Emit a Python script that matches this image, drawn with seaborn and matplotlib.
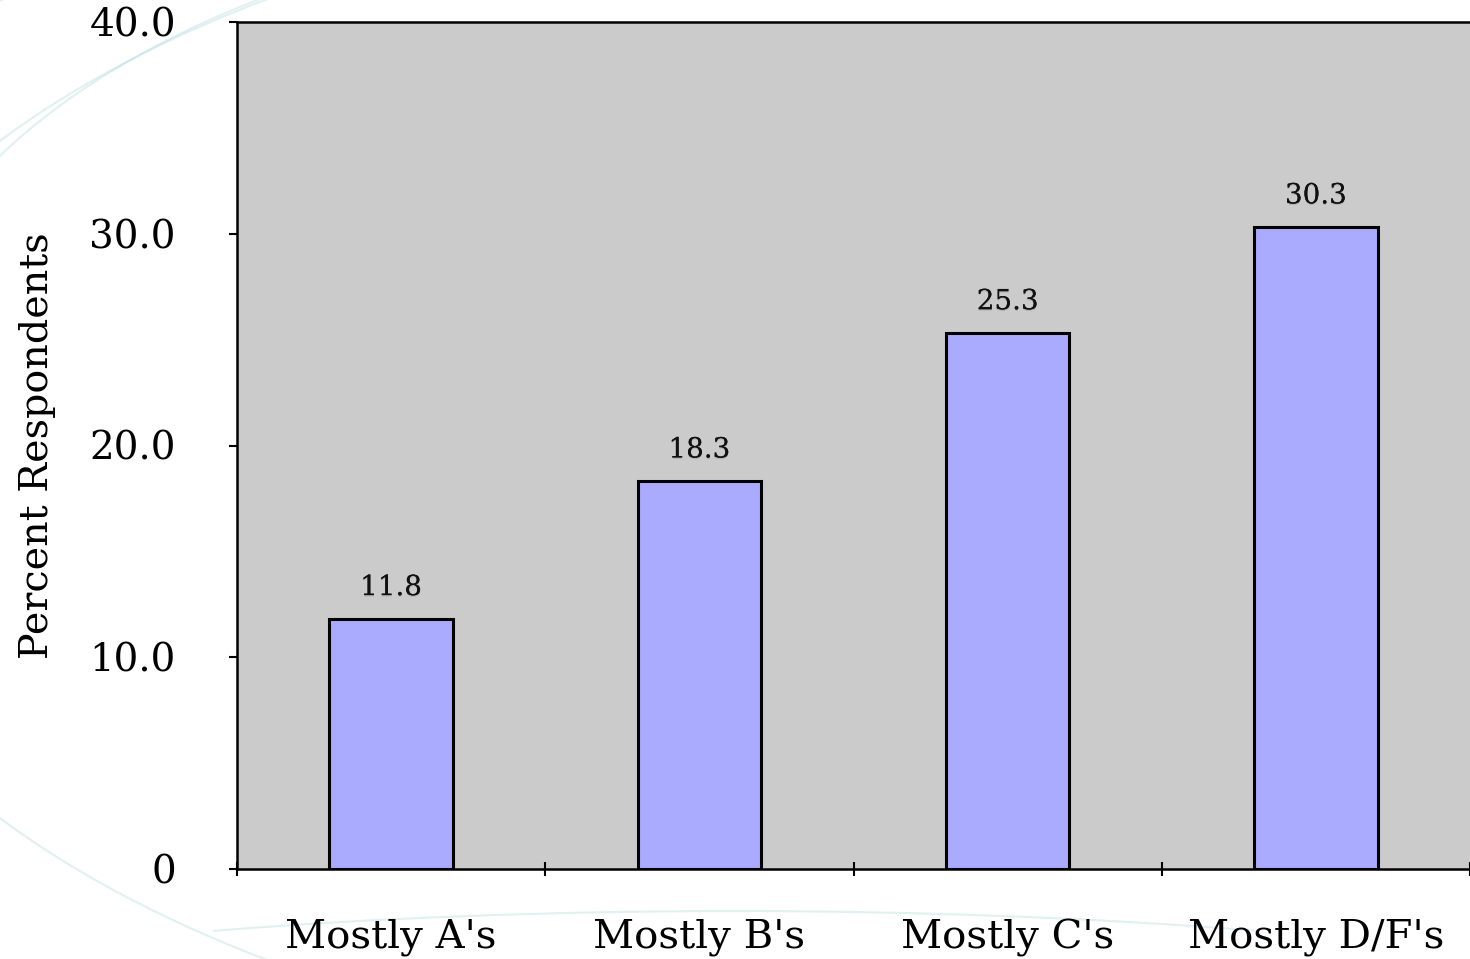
import numpy as np
import pandas as pd
import matplotlib
matplotlib.use("Agg")
import matplotlib.pyplot as plt
import matplotlib.patheffects as pe
from matplotlib.patches import Arc
import seaborn as sns

# Chart data
categories = ["Mostly A's", "Mostly B's", "Mostly C's", "Mostly D/F's"]
percent = [11.8, 18.3, 25.3, 30.3]
y_ticks = [0, 10, 20, 30, 40]

df = pd.DataFrame({"grade": categories, "pct": percent})

sns.set_theme(style="white")
plt.rcParams['font.family'] = ['DejaVu Serif', 'Liberation Serif']
plt.rcParams['text.color'] = 'black'
plt.rcParams['xtick.color'] = 'black'
plt.rcParams['ytick.color'] = 'black'
plt.rcParams['axes.labelcolor'] = 'black'

fig = plt.figure(figsize=(14.7, 9.59), dpi=100)
fig.patch.set_facecolor("white")

# faint decorative arcs in the background
for (cx, cy, w, h, t1, t2) in [(0.62, 0.45, 1.9, 1.45, 125, 235),
                               (0.66, 0.5, 1.6, 1.25, 120, 240),
                               (0.55, 0.6, 1.25, 1.0, 115, 200),
                               (0.5, -0.1, 1.4, 0.3, 20, 160),
                               (0.9, 1.0, 0.45, 0.35, 200, 340)]:
    fig.patches.append(Arc((cx, cy), w, h, theta1=t1, theta2=t2,
                           transform=fig.transFigure, color="#a9d4d8",
                           lw=1.5, alpha=0.35, zorder=0))

ax = fig.add_axes([237 / 1470, 90 / 959, 1 - 237 / 1470, (869 - 22) / 959])
ax.set_zorder(2)
ax.set_facecolor("#cbcbcb")

sns.barplot(data=df, x="grade", y="pct", ax=ax, color="#aaaaff",
            saturation=1, width=0.4, edgecolor="black", linewidth=2.2)

for p, v in zip(ax.patches, percent):
    t = ax.annotate(f"{v:.1f}", (p.get_x() + p.get_width() / 2, p.get_height()),
                    xytext=(0, 13), textcoords="offset points",
                    ha="center", va="bottom", fontsize=20, color="#111111")
    t.set_path_effects([pe.withSimplePatchShadow(offset=(0, -1), shadow_rgbFace="#888888", alpha=0.35),
                        pe.Normal()])

ax.set_ylim(0, 40)
ax.set_xlim(-0.5, 3.5)
ax.set_yticks(y_ticks)
ax.set_yticklabels(["0" if t == 0 else f"{t:.1f}" for t in y_ticks], fontsize=28)
ax.set_xticks(range(len(categories)))
ax.set_xticklabels(categories, fontsize=29)
ax.set_xticks(np.arange(-0.5, 4, 1), minor=True)
ax.tick_params(axis="x", which="major", bottom=True, length=0, pad=36)
ax.tick_params(axis="x", which="minor", bottom=True, direction="inout", length=10, width=1.5)
ax.tick_params(axis="y", left=True, direction="out", length=6, width=1.5, pad=38)
ax.set_xlabel("")
ax.set_ylabel("Percent Respondents", fontsize=28.5, labelpad=24)

for s in ["left", "bottom", "top"]:
    ax.spines[s].set_color("black")
    ax.spines[s].set_linewidth(1.8)
ax.spines["right"].set_visible(False)

fig.savefig("out.png", dpi=100, facecolor="white")
